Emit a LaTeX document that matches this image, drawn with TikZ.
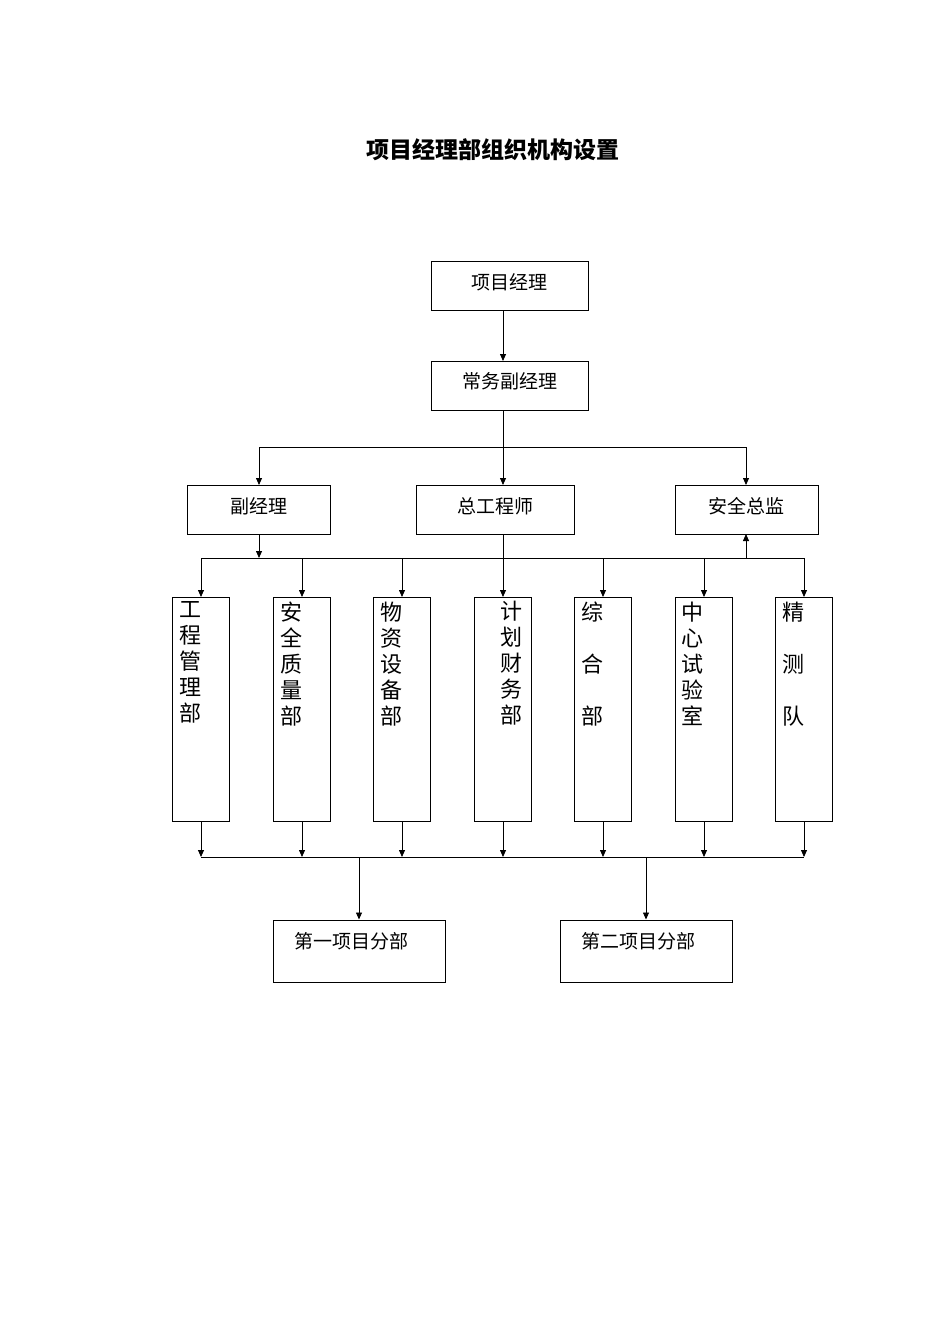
\documentclass[tikz,border=0pt]{standalone}
\usepackage{fontspec}
\setmainfont{Noto Sans CJK SC}
\usetikzlibrary{arrows.meta}
\begin{document}
\begin{tikzpicture}[x=1pt,y=-1pt,
  bx/.style={draw,line width=1pt,inner sep=0pt},
  lbl/.style={font=\fontsize{19}{22}\selectfont},
  vt/.style={font=\fontsize{22}{26}\selectfont,align=center,anchor=north},
  ar/.style={-{Triangle[length=7pt,width=6pt]},line width=0.8pt},
  ln/.style={line width=0.8pt}]
\useasboundingbox (0,0) rectangle (950,1344);
\node (title) at (493,150) {\fontsize{23}{26}\selectfont\bfseries 项目经理部组织机构设置};
\node[bx,minimum width=157pt,minimum height=49pt] (pm) at (509.5,285.5) {};
\node[lbl] at (509.5,282) {项目经理};
\node[bx,minimum width=157pt,minimum height=49pt] (cm) at (509.5,385.5) {};
\node[lbl] at (509.5,381) {常务副经理};
\draw[ar] (503,310) -- (503,361);
\node[bx,minimum width=143pt,minimum height=49pt] (d1) at (258.5,509.5) {};
\node[lbl] at (258.5,506) {副经理};
\node[bx,minimum width=158pt,minimum height=49pt] (d2) at (495,509.5) {};
\node[lbl] at (495,506) {总工程师};
\node[bx,minimum width=143pt,minimum height=49pt] (d3) at (746.5,509.5) {};
\node[lbl] at (746.5,506) {安全总监};
\coordinate (s1) at (503,447);
\draw[ln] (503,410) -- (s1);
\draw[ln] (259,447) -- (746,447);
\draw[ar] (259,447) -- (259,485);
\draw[ar] (503,447) -- (503,485);
\draw[ar] (746,447) -- (746,485);
\draw[ar] (259,534) -- (259,558);
\draw[ln] (503,534) -- (503,558);
\draw[ar] (746,558) -- (746,534);
\draw[ln] (201,558) -- (804,558);
\draw[ln] (201,857) -- (804,857);
\foreach \x/\t [count=\i] in {201/{工\\程\\管\\理\\部},302/{安\\全\\质\\量\\部},402/{物\\资\\设\\备\\部},503/{计\\划\\财\\务\\部},603/{综\\[26pt]合\\[26pt]部},704/{中\\心\\试\\验\\室},804/{精\\[26pt]测\\[26pt]队}}{
  \node[bx,minimum width=57pt,minimum height=224pt] (v\i) at (\x,709) {};
  \draw[ar] (\x,558) -- (\x,597);
  \draw[ar] (\x,821) -- (\x,857);
}
\node[vt] at (190,598) {工\\程\\管\\理\\部};
\node[vt] at (291,598) {安\\全\\质\\量\\部};
\node[vt] at (391,598) {物\\资\\设\\备\\部};
\node[vt] at (511,598) {计\\划\\财\\务\\部};
\node[vt] at (592,598) {综\\[26pt]合\\[26pt]部};
\node[vt] at (692,598) {中\\心\\试\\验\\室};
\node[vt] at (793,598) {精\\[26pt]测\\[26pt]队};
\node[bx,minimum width=172pt,minimum height=62pt] (b1) at (359,951) {};
\node[lbl] at (351,941) {第一项目分部};
\node[bx,minimum width=172pt,minimum height=62pt] (b2) at (646,951) {};
\node[lbl] at (638,941) {第二项目分部};
\draw[ar] (359,857) -- (b1.north);
\draw[ar] (646,857) -- (b2.north);
\end{tikzpicture}
\end{document}
